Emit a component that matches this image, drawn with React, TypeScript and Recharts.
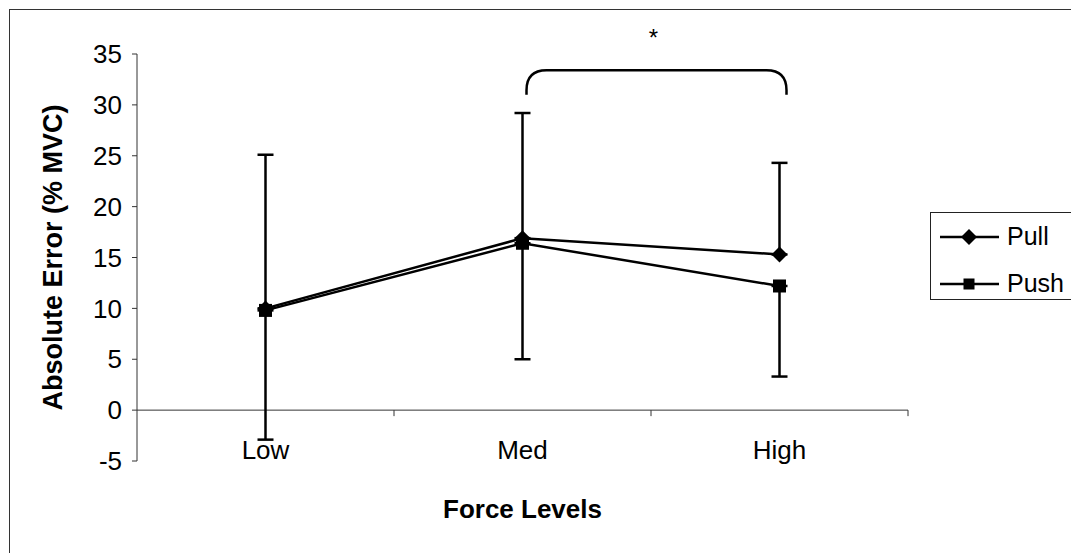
import React from "react";
import { LineChart, Line, XAxis, YAxis, ErrorBar, ReferenceLine, Legend } from "recharts";

const levels = ["Low", "Med", "High"];
const pullMeans = [10.0, 16.9, 15.3];
const pushMeans = [9.8, 16.4, 12.2];
// Pull shows only the upper error bar, Push only the lower one
const pullUpperErr = [15.1, 12.3, 9.0];
const pushLowerErr = [12.7, 11.4, 8.9];
const yTicks = [-5, 0, 5, 10, 15, 20, 25, 30, 35];
const bracketStart = { x: "Med", y: 31.0 };
const bracketEnd = { x: "High", y: 33.4 };
const sigMark = "*";

const data = levels.map((level, i) => ({
  level,
  pull: pullMeans[i],
  push: pushMeans[i],
  pullErr: [0, pullUpperErr[i]],
  pushErr: [pushLowerErr[i], 0],
}));

const FONT = "'Liberation Sans', Arial, sans-serif";

const Diamond = (p: any) => {
  const { cx, cy, index } = p;
  if (cx == null || cy == null) return <g key={index} />;
  const r = 8;
  return (
    <path
      key={index}
      d={`M${cx},${cy - r}L${cx + r},${cy}L${cx},${cy + r}L${cx - r},${cy}Z`}
      fill="#000"
    />
  );
};

const Square = (p: any) => {
  const { cx, cy, index } = p;
  if (cx == null || cy == null) return <g key={index} />;
  const r = 6.5;
  return <rect key={index} x={cx - r} y={cy - r} width={r * 2} height={r * 2} fill="#000" />;
};

const Bracket = (p: any) => {
  const { x1, y1, x2, y2 } = p;
  const l = x1 + 4;
  const rt = x2 + 7;
  const r = 20;
  const d = `M${l},${y1} L${l},${y2 + r} Q${l},${y2} ${l + r},${y2} L${rt - r},${y2} Q${rt},${y2} ${rt},${y2 + r} L${rt},${y1}`;
  return (
    <g>
      <path d={d} fill="none" stroke="#000" strokeWidth={2.5} />
      <text x={(l + rt) / 2 - 3} y={y2 - 24} textAnchor="middle" fontSize={24} fontFamily={FONT} fill="#000">
        {sigMark}
      </text>
    </g>
  );
};

const BoundTick = (p: any) => (
  <line x1={p.x1} y1={p.y1} x2={p.x1} y2={p.y1 + 6} stroke="#333" strokeWidth={1} />
);

const XTick = (p: any) => {
  const { x, y, payload } = p;
  return (
    <text x={x} y={y - 2} textAnchor="middle" fontSize={26} fontFamily={FONT} fill="#000">
      {payload.value}
    </text>
  );
};

const renderLegend = (props: any) => {
  const items = props.payload || [];
  return (
    <div
      style={{
        border: "1px solid #222",
        borderRight: "none",
        height: 88,
        width: 150,
        paddingTop: 0,
        boxSizing: "border-box",
        fontFamily: FONT,
        fontSize: 25,
        color: "#000",
      }}
    >
      {items.map((entry: any) => (
        <div key={entry.value} style={{ display: "flex", alignItems: "center", height: 47 }}>
          <svg width={76} height={20} style={{ display: "block" }}>
            <line x1={9} y1={10} x2={68} y2={10} stroke="#000" strokeWidth={2.5} />
            {entry.value === "Pull" ? (
              <path d="M38,2L46,10L38,18L30,10Z" fill="#000" />
            ) : (
              <rect x={32.5} y={4.5} width={11} height={11} fill="#000" />
            )}
          </svg>
          <span style={{ lineHeight: 1 }}>{entry.value}</span>
        </div>
      ))}
    </div>
  );
};

export default function App() {
  return (
    <div
      style={{
        position: "absolute",
        left: 0,
        top: 0,
        width: 1071,
        height: 553,
        overflow: "hidden",
        background: "#fff",
        fontFamily: FONT,
      }}
    >
      <div
        style={{
          position: "absolute",
          left: 9,
          top: 9,
          width: 1100,
          height: 600,
          border: "1px solid #333",
        }}
      />
      <div style={{ position: "absolute", left: 0, top: 0 }}>
        <LineChart
          width={1071}
          height={553}
          data={data}
          margin={{ top: 54, right: 13, bottom: 32, left: 0 }}
        >
          <XAxis
            dataKey="level"
            scale="band"
            height={60}
            axisLine={false}
            tickLine={false}
            tickSize={0}
            tickMargin={0}
            tick={<XTick />}
            label={{
              value: "Force Levels",
              position: "insideBottom",
              offset: 3,
              style: { fontWeight: "bold", fontSize: 26, fill: "#000", fontFamily: FONT },
            }}
          />
          <YAxis
            width={137}
            domain={[-5, 35]}
            ticks={yTicks}
            interval={0}
            tickSize={5}
            tickMargin={10}
            axisLine={{ stroke: "#333" }}
            tickLine={{ stroke: "#333" }}
            tick={{ fill: "#000", fontSize: 26, fontFamily: FONT }}
            label={{
              value: "Absolute Error (% MVC)",
              angle: -90,
              position: "insideLeft",
              offset: 52,
              style: { textAnchor: "middle", fontWeight: "bold", fontSize: 27, fill: "#000", fontFamily: FONT },
            }}
          />
          <ReferenceLine y={0} stroke="#333" strokeWidth={1} />
          {levels.map((lv) => (
            <ReferenceLine
              key={lv}
              position="end"
              segment={[{ x: lv, y: 0 }, { x: lv, y: -5 }]}
              shape={BoundTick}
            />
          ))}
          <ReferenceLine segment={[bracketStart, bracketEnd]} shape={Bracket} />
          <Legend
            layout="horizontal"
            verticalAlign="middle"
            align="right"
            content={renderLegend}
            wrapperStyle={{ left: 930, top: 212, width: 150, height: 88 }}
          />
          <Line
            dataKey="pull"
            name="Pull"
            stroke="#000"
            strokeWidth={2.5}
            dot={Diamond}
            activeDot={false}
            isAnimationActive={false}
          >
            <ErrorBar dataKey="pullErr" width={8} strokeWidth={2.5} stroke="#000" direction="y" />
          </Line>
          <Line
            dataKey="push"
            name="Push"
            stroke="#000"
            strokeWidth={2.5}
            dot={Square}
            activeDot={false}
            isAnimationActive={false}
          >
            <ErrorBar dataKey="pushErr" width={8} strokeWidth={2.5} stroke="#000" direction="y" />
          </Line>
        </LineChart>
      </div>
    </div>
  );
}
